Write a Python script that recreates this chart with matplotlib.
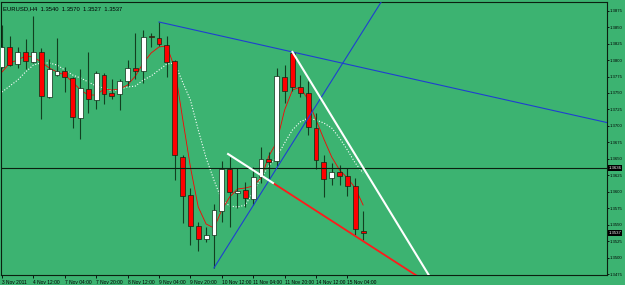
import matplotlib
matplotlib.use("Agg")
import matplotlib.pyplot as plt
import matplotlib.transforms as mtransforms

plt.rcParams["font.family"] = ["Liberation Sans", "DejaVu Sans"]

# EURUSD H4 candles
opens = [1.37895, 1.38199, 1.37940, 1.38123, 1.37971, 1.38123, 1.37439, 1.37773,
         1.37834, 1.37728, 1.37120, 1.37560, 1.37393, 1.37773, 1.37499, 1.37484,
         1.37682, 1.37880, 1.37834, 1.38366, 1.38335, 1.38229, 1.37986, 1.36528,
         1.35950, 1.35479, 1.35282, 1.35343, 1.35707, 1.36345, 1.35981, 1.36026,
         1.35889, 1.36224, 1.36497, 1.36467, 1.37743, 1.38107, 1.37591, 1.37499,
         1.36968, 1.36452, 1.36209, 1.36300, 1.36239, 1.36087, 1.3540]
highs = [1.38533, 1.38366, 1.38199, 1.38320, 1.38669, 1.38183, 1.38016, 1.38335,
         1.37895, 1.37743, 1.37864, 1.38123, 1.37834, 1.37804, 1.37712, 1.37712,
         1.38001, 1.38411, 1.38457, 1.38411, 1.38578, 1.38366, 1.38001, 1.36558,
         1.36057, 1.35540, 1.35464, 1.35813, 1.36467, 1.36528, 1.36360, 1.36148,
         1.36376, 1.36680, 1.36604, 1.37880, 1.37925, 1.38123, 1.37773, 1.37682,
         1.37196, 1.36558, 1.36436, 1.36406, 1.36360, 1.36209, 1.3570]
lows = [1.37880, 1.37910, 1.37880, 1.37864, 1.37956, 1.37105, 1.37423, 1.37758,
        1.37515, 1.36968, 1.36801, 1.37196, 1.37256, 1.37332, 1.37408, 1.37241,
        1.37606, 1.37712, 1.37652, 1.38199, 1.38214, 1.37743, 1.36178, 1.35525,
        1.35191, 1.35100, 1.35236, 1.34842, 1.35540, 1.35464, 1.35753, 1.35768,
        1.35798, 1.36133, 1.36178, 1.36391, 1.37347, 1.37530, 1.37439, 1.36862,
        1.36345, 1.35920, 1.36102, 1.36102, 1.35935, 1.35343, 1.3527]
closes = [1.38199, 1.37925, 1.38123, 1.37986, 1.38123, 1.37454, 1.37864, 1.37834,
          1.37743, 1.37135, 1.37575, 1.37408, 1.37804, 1.37484, 1.37454, 1.37682,
          1.37880, 1.37834, 1.38350, 1.38350, 1.38244, 1.37971, 1.36558, 1.35935,
          1.35479, 1.35282, 1.35343, 1.35723, 1.36345, 1.35996, 1.36011, 1.35905,
          1.36224, 1.36497, 1.36452, 1.37758, 1.37530, 1.37591, 1.37499, 1.36983,
          1.36482, 1.36194, 1.36300, 1.36239, 1.36087, 1.35434, 1.3537]

# moving averages drawn on the chart
ma_fast = [1.37819, 1.37956, 1.38001, 1.38062, 1.38047, 1.37971, 1.37880, 1.37819,
           1.37773, 1.37667, 1.37545, 1.37469, 1.37469, 1.37560, 1.37545, 1.37560,
           1.37621, 1.37758, 1.37956, 1.38107, 1.38199, 1.38214, 1.37880, 1.37120,
           1.36376, 1.35768, 1.35510, 1.35449, 1.35723, 1.35920, 1.36041, 1.36057,
           1.36087, 1.36209, 1.36543, 1.36756, 1.37241, 1.37545, 1.37591, 1.37393,
           1.37090, 1.36801, 1.36528, 1.36330, 1.36209, 1.36057, 1.35798]
ma_slow = [1.37515, 1.37606, 1.37697, 1.37819, 1.37925, 1.37956, 1.37956, 1.37925,
           1.37849, 1.37773, 1.37728, 1.37667, 1.37606, 1.37575, 1.37530, 1.37560,
           1.37591, 1.37606, 1.37697, 1.37758, 1.37849, 1.37940, 1.37956, 1.37667,
           1.37393, 1.36938, 1.36513, 1.36178, 1.35874, 1.35783, 1.35768, 1.35798,
           1.35996, 1.36209, 1.36391, 1.36528, 1.36741, 1.36938, 1.37060, 1.37120,
           1.37090, 1.37044, 1.36968, 1.36816, 1.36634, 1.36436, 1.36284]

time_tick_bars = [0, 4, 8, 12, 16, 20, 24, 28, 32, 36, 40, 44]
time_labels = ["3 Nov 2011", "4 Nov 12:00", "7 Nov 04:00", "7 Nov 20:00",
               "8 Nov 12:00", "9 Nov 04:00", "9 Nov 20:00", "10 Nov 12:00",
               "11 Nov 04:00", "11 Nov 20:00", "14 Nov 12:00", "15 Nov 04:00"]
price_ticks = [1.3475, 1.3500, 1.3525, 1.3550, 1.3575, 1.3600, 1.3625, 1.3650,
               1.3675, 1.3700, 1.3725, 1.3750, 1.3775, 1.3800, 1.3825, 1.3850, 1.3875]

# trend lines: (bar, price) anchors
blue_ray_1 = [(20, 1.38578), (37, 1.38123)]
blue_ray_2 = [(27, 1.34842), (47.5, 1.38730)]
white_ray = [(37, 1.38123), (50.7, 1.35449)]
white_segment = [(28.8, 1.36573), (34.52, 1.36133)]
hline_price = 1.3636
bid_price = 1.3537

bg = "#3cb371"
wick_col = "#123f20"


def ray(p1, p2, far=300):
    slope = (p2[1] - p1[1]) / (p2[0] - p1[0])
    return [p1[0], far], [p1[1], p1[1] + slope * (far - p1[0])]


fig = plt.figure(figsize=(6.25, 2.85), dpi=100, facecolor=bg)
ax = fig.add_axes([1 / 625, 10 / 285, 606 / 625, 273 / 285])
ax.set_facecolor(bg)

bars = list(range(len(opens)))

## moving averages
ax.plot(bars, ma_slow, color="white", lw=0.8, ls=(0, (1, 1.6)), zorder=2)
ax.plot(bars, ma_fast, color="red", lw=0.6, zorder=2)

## candles
for i in bars:
    o, h, l, c = opens[i], highs[i], lows[i], closes[i]
    ax.vlines(i, l, h, color=wick_col, lw=0.8, zorder=3)
    body = max(abs(c - o), 0.00008)
    fill = "white" if c > o else "red"
    ax.bar(i, body, bottom=min(o, c), width=0.62, color=fill,
           edgecolor="#0b2a14", linewidth=0.5, zorder=4)

## drawn objects
ax.axhline(hline_price, color="#0b1f10", lw=0.8, zorder=5)
xs, ys = ray(*blue_ray_1)
ax.plot(xs, ys, color="#1f3fd0", lw=0.8, zorder=5)
xs, ys = ray(*blue_ray_2)
ax.plot(xs, ys, color="#1f3fd0", lw=0.8, zorder=5)
xs, ys = ray(*white_ray)
ax.plot(xs, ys, color="white", lw=1.5, zorder=6)
xs, ys = ray(white_segment[1], (2 * white_segment[1][0] - white_segment[0][0],
                                2 * white_segment[1][1] - white_segment[0][1]))
ax.plot(xs, ys, color="#ff1a1a", lw=1.3, zorder=6)
ax.plot([p[0] for p in white_segment], [p[1] for p in white_segment],
        color="white", lw=1.5, zorder=6)

ax.set_xlim(-0.127, 77.07)
ax.set_ylim(1.34735, 1.38882)

## axes and labels
for s in ax.spines.values():
    s.set_color("#0b1f10")
    s.set_linewidth(0.8)
ax.yaxis.tick_right()
ax.set_yticks(price_ticks)
ax.set_yticklabels(["%.4f" % p for p in price_ticks])
ax.tick_params(axis="y", length=1.5, width=0.6, pad=0.6, labelsize=3.1,
               colors="black")
ax.set_xticks(time_tick_bars)
ax.set_xticklabels(time_labels, ha="left")
ax.tick_params(axis="x", length=2.5, width=0.6, pad=1, labelsize=3.5,
               colors="black")

trans = mtransforms.blended_transform_factory(ax.transAxes, ax.transData)
for p in [hline_price, bid_price]:
    ax.text(1.0025, p, "%.4f" % p, transform=trans, fontsize=3.1, color="white",
            va="center", ha="left", zorder=10, clip_on=False,
            bbox=dict(boxstyle="square,pad=0.2", fc="black", ec="none"))

ax.text(0.004, 0.985, "EURUSD,H4  %.4f  %.4f  %.4f  %.4f"
        % (opens[-1], highs[-1], lows[-1], closes[-1]),
        transform=ax.transAxes, fontsize=4.2, color="black", va="top", ha="left")

fig.savefig("out.png", dpi=100, facecolor=bg)
